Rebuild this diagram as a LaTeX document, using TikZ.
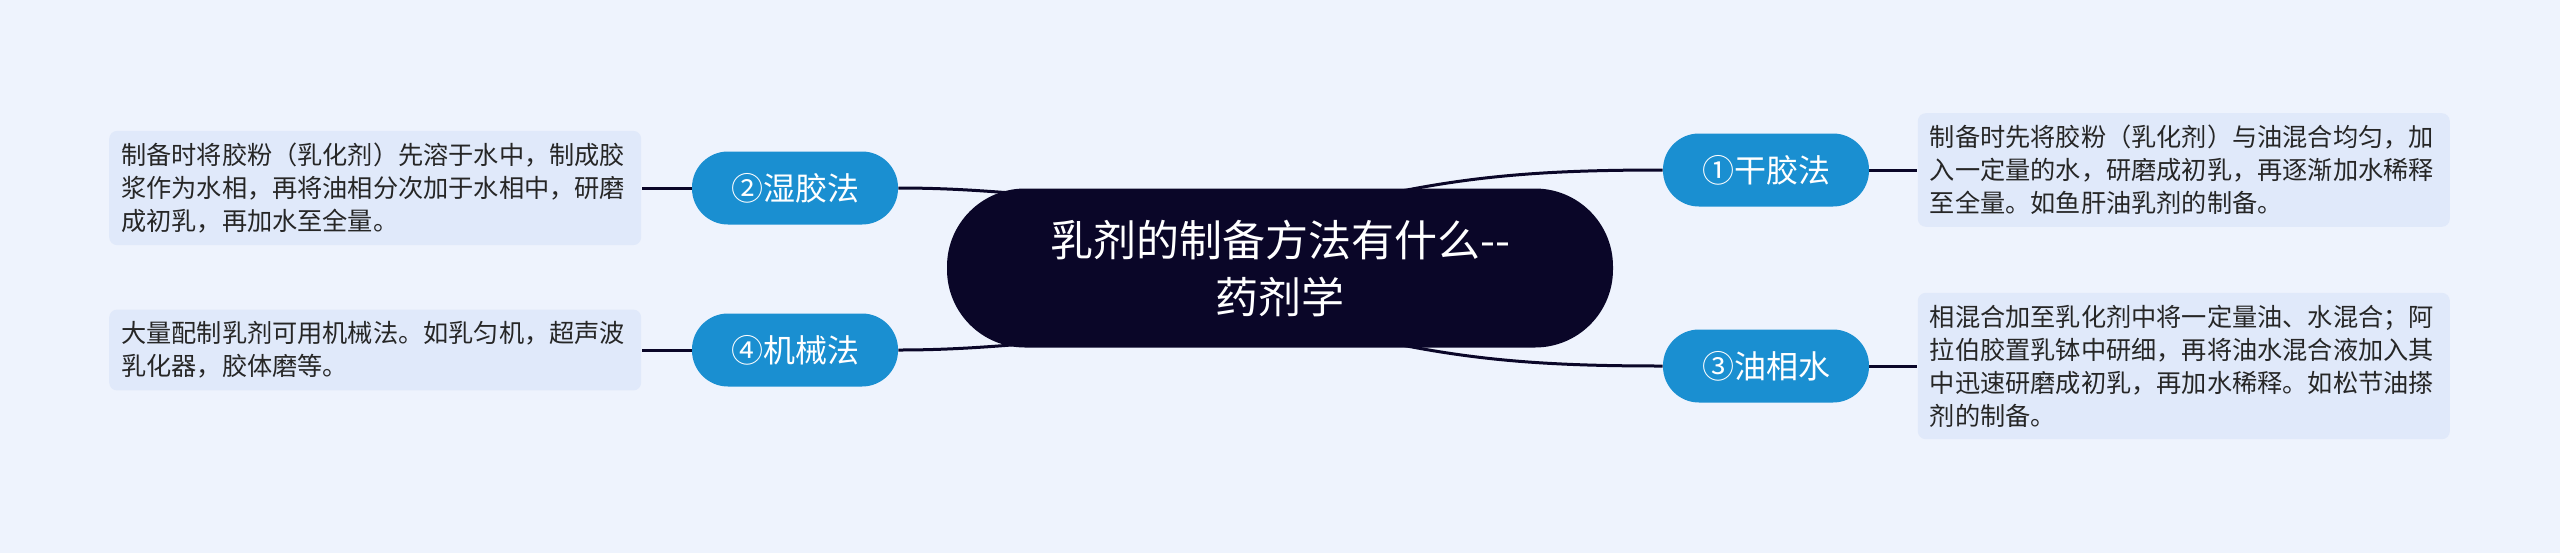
\documentclass[tikz,border=0pt]{standalone}
\usepackage{fontspec}
\setmainfont{Noto Sans CJK SC}
\usetikzlibrary{positioning}
\definecolor{pagebg}{HTML}{EEF3FD}
\definecolor{rootfill}{HTML}{0A0628}
\definecolor{topicfill}{HTML}{1A8FD1}
\definecolor{leaffill}{HTML}{E0E9FA}
\pgfdeclarelayer{back}
\pgfsetlayers{back,main}

\begin{document}
\begin{tikzpicture}[x=0.5pt, y=-0.5pt,
  root/.style={fill=rootfill, text=white, rounded corners=39pt, minimum width=333pt, minimum height=79.5pt, align=center, font={\fontsize{21.5}{28.5}\selectfont}},
  topic/.style={fill=topicfill, text=white, rounded corners=18pt, minimum width=103pt, minimum height=36.5pt, font={\fontsize{16}{19}\selectfont}},
  leaf/.style={fill=leaffill, text=black!85, rounded corners=4pt, text width=254pt, inner xsep=6pt, inner ysep=6pt, align=left, font={\fontsize{12.6}{16.5}\selectfont}},
  link/.style={draw=rootfill, line width=1.5pt}]
\begin{pgfonlayer}{back}
\fill[pagebg] (0,0) rectangle (2560,553);
\end{pgfonlayer}
\useasboundingbox (0,0) rectangle (2560,553);

\node[root] (root) at (1280,268) {乳剂的制备方法有什么-{}-\\药剂学};

\node[topic] (n1) at (1766,170) {①干胶法};
\node[topic] (n2) at (795,188) {②湿胶法};
\node[topic] (n3) at (1766,366) {③油相水};
\node[topic] (n4) at (795,350) {④机械法};

\node[leaf, right=24pt of n1] (d1) {制备时先将胶粉（乳化剂）与油混合均匀，加\\入一定量的水，研磨成初乳，再逐渐加水稀释\\至全量。如鱼肝油乳剂的制备。};
\node[leaf, left=25pt of n2] (d2) {制备时将胶粉（乳化剂）先溶于水中，制成胶\\浆作为水相，再将油相分次加于水相中，研磨\\成初乳，再加水至全量。};
\node[leaf, right=24pt of n3] (d3) {相混合加至乳化剂中将一定量油、水混合；阿\\拉伯胶置乳钵中研细，再将油水混合液加入其\\中迅速研磨成初乳，再加水稀释。如松节油搽\\剂的制备。};
\node[leaf, left=25pt of n4] (d4) {大量配制乳剂可用机械法。如乳匀机，超声波\\乳化器，胶体磨等。};

\begin{pgfonlayer}{back}
\coordinate (r1) at (1300,215);
\coordinate (r2) at (1150,200);
\coordinate (r3) at (1300,321);
\coordinate (r4) at (1150,338);
\draw[link] (r1) to[out=15, in=180] (n1.west);
\draw[link] (r2) to[out=180, in=0] (n2.east);
\draw[link] (r3) to[out=-15, in=180] (n3.west);
\draw[link] (r4) to[out=180, in=0] (n4.east);
\draw[link] (n1.east) -- (d1.west);
\draw[link] (n2.west) -- (d2.east);
\draw[link] (n3.east) -- (d3.west);
\draw[link] (n4.west) -- (d4.east);
\end{pgfonlayer}
\end{tikzpicture}
\end{document}
